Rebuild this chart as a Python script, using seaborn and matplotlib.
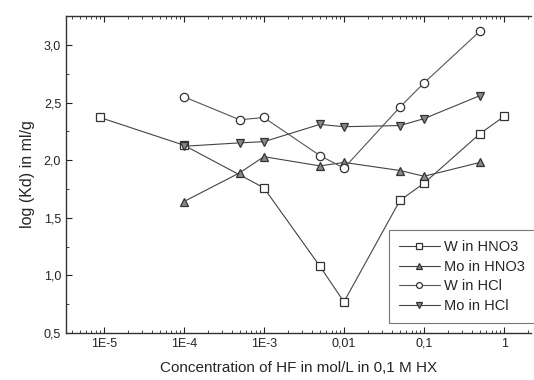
import numpy as np
import matplotlib
matplotlib.use("Agg")
import matplotlib.pyplot as plt
import matplotlib.ticker as mticker
import pandas as pd
import seaborn as sns

# HF concentration (mol/L) and log(Kd) values
w_hno3_x = [9e-6, 1e-4, 1e-3, 5e-3, 1e-2, 5e-2, 1e-1, 5e-1, 1.0]
w_hno3_y = [2.37, 2.13, 1.76, 1.08, 0.77, 1.65, 1.80, 2.23, 2.38]

mo_hno3_x = [1e-4, 5e-4, 1e-3, 5e-3, 1e-2, 5e-2, 1e-1, 5e-1]
mo_hno3_y = [1.64, 1.89, 2.03, 1.95, 1.98, 1.91, 1.86, 1.98]

w_hcl_x = [1e-4, 5e-4, 1e-3, 5e-3, 1e-2, 5e-2, 1e-1, 5e-1]
w_hcl_y = [2.55, 2.35, 2.37, 2.04, 1.93, 2.46, 2.67, 3.12]

mo_hcl_x = [1e-4, 5e-4, 1e-3, 5e-3, 1e-2, 5e-2, 1e-1, 5e-1]
mo_hcl_y = [2.12, 2.15, 2.16, 2.31, 2.29, 2.30, 2.36, 2.56]

series = ["W in HNO3", "Mo in HNO3", "W in HCl", "Mo in HCl"]
xticks = [1e-5, 1e-4, 1e-3, 1e-2, 1e-1, 1]
xlabels = ["1E-5", "1E-4", "1E-3", "0,01", "0,1", "1"]

frames = []
for name, xs, ys in zip(series,
                        [w_hno3_x, mo_hno3_x, w_hcl_x, mo_hcl_x],
                        [w_hno3_y, mo_hno3_y, w_hcl_y, mo_hcl_y]):
    frames.append(pd.DataFrame({"conc": xs, "logkd": ys, "series": name}))
df = pd.concat(frames, ignore_index=True)

sns.set_style("ticks")
plt.rcParams["font.family"] = ["Liberation Sans", "DejaVu Sans"]

fig = plt.figure(figsize=(5.34, 3.80), dpi=100)
ax = fig.add_axes([0.1236, 0.1237, 0.870, 0.834])

styles = {
    "W in HNO3": dict(marker="s", mfc="white", mec="#333333", color="#444444"),
    "Mo in HNO3": dict(marker="^", mfc="#888888", mec="#333333", color="#444444"),
    "W in HCl": dict(marker="o", mfc="white", mec="#333333", color="#555555"),
    "Mo in HCl": dict(marker="v", mfc="#888888", mec="#333333", color="#444444"),
}

for name in series:
    st = styles[name]
    sns.lineplot(data=df[df.series == name], x="conc", y="logkd", ax=ax,
                 color=st["color"], linewidth=0.8, marker=st["marker"],
                 markersize=6, markerfacecolor=st["mfc"],
                 markeredgecolor=st["mec"], markeredgewidth=0.9,
                 label=name, estimator=None, sort=False)

ax.set_xscale("log")
ax.set_xlim(10 ** -5.47, 10 ** 0.33)
ax.set_ylim(0.5, 3.25)
ax.set_xticks(xticks)
ax.set_xticklabels(xlabels)
ax.xaxis.set_minor_locator(mticker.LogLocator(base=10, subs=np.arange(2, 10), numticks=20))
ax.xaxis.set_minor_formatter(mticker.NullFormatter())
ax.set_yticks([0.5, 1.0, 1.5, 2.0, 2.5, 3.0])
ax.set_yticklabels(["0,5", "1,0", "1,5", "2,0", "2,5", "3,0"])
ax.yaxis.set_minor_locator(mticker.MultipleLocator(0.25))

ax.tick_params(axis="both", which="major", direction="out", length=4,
               width=0.8, labelsize=9, colors="#222222")
ax.tick_params(axis="both", which="minor", direction="out", length=2, width=0.6)
ax.tick_params(top=True, which="both", direction="in")
for side in ["left", "bottom", "top"]:
    ax.spines[side].set_linewidth(1.0)
    ax.spines[side].set_color("#333333")
ax.spines["right"].set_visible(False)

ax.set_xlabel("Concentration of HF in mol/L in 0,1 M HX", fontsize=11, labelpad=8)
ax.set_ylabel("log (Kd) in ml/g", fontsize=11.5, labelpad=6)

leg = ax.legend(loc="lower right", bbox_to_anchor=(1.01, 0.03), borderaxespad=0,
                fontsize=10.5, frameon=True, fancybox=False, edgecolor="#555555",
                markerscale=0.7, handlelength=2.8, borderpad=0.7,
                labelspacing=0.4, handletextpad=0.3)
leg.get_frame().set_linewidth(0.8)

fig.savefig("out.png", dpi=100)
